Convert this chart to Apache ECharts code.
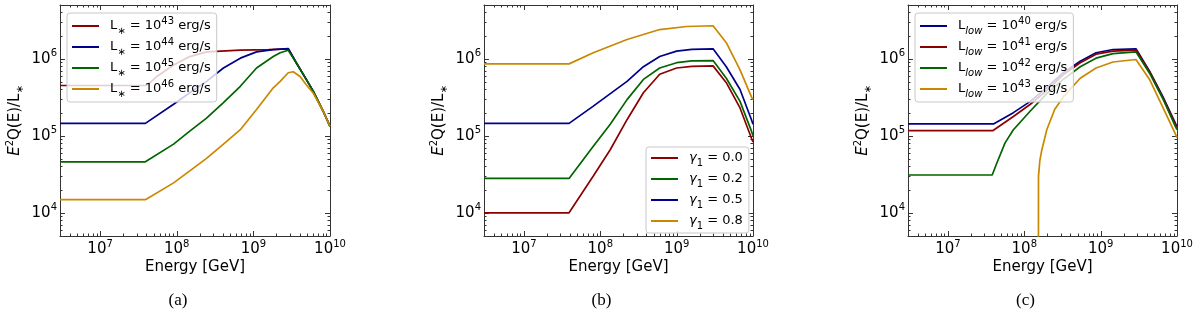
<!DOCTYPE html>
<html><head><meta charset="utf-8">
<script src="https://cdn.jsdelivr.net/npm/echarts@6/dist/echarts.min.js"></script>
<style>html,body{margin:0;padding:0;background:#fff}#c{width:1200px;height:323px}</style>
</head><body><div id="c"></div>
<script>
// ---------- tick values ----------
const xMajor = [1e7, 1e8, 1e9, 1e10];
const xMinor = [4e6,5e6,6e6,7e6,8e6,9e6, 2e7,3e7,4e7,5e7,6e7,7e7,8e7,9e7,
                2e8,3e8,4e8,5e8,6e8,7e8,8e8,9e8, 2e9,3e9,4e9,5e9,6e9,7e9,8e9,9e9];
const yMajor = [1e4, 1e5, 1e6];
const yMinor = [6e3,7e3,8e3,9e3, 2e4,3e4,4e4,5e4,6e4,7e4,8e4,9e4,
                2e5,3e5,4e5,5e5,6e5,7e5,8e5,9e5, 2e6,3e6,4e6];
const xRange = [3e6, 1e10];
const yRange = [5e3, 5e6];
const xTitle = 'Energy [GeV]';
const yTitle = 'E^2Q(E)/L_∗';
const panelLabels = ['(a)', '(b)', '(c)'];

// ---------- panel (a) ----------
const aNames = ['L_∗ = 10^43 erg/s', 'L_∗ = 10^44 erg/s', 'L_∗ = 10^45 erg/s', 'L_∗ = 10^46 erg/s'];
const aL43 = [[3e6,4.5e5],[3.9e7,4.5e5],[4.6e7,5.0e5],[5.5e7,5.9e5],[7.4e7,7.2e5],[9.1e7,8.3e5],[1.48e8,1.07e6],[2.45e8,1.23e6],[6.76e8,1.3e6],[1.58e9,1.32e6],[2.85e9,1.35e6],[3.63e9,8.9e5],[4.9e9,5.4e5],[6.03e9,3.8e5],[8.13e9,2.1e5],[1e10,1.33e5]];
const aL44 = [[3e6,1.45e5],[3.9e7,1.45e5],[9.1e7,2.57e5],[1.48e8,3.63e5],[2.45e8,5.1e5],[4.07e8,7.6e5],[6.76e8,1.02e6],[1.1e9,1.23e6],[1.82e9,1.32e6],[2.85e9,1.36e6],[3.63e9,8.9e5],[4.9e9,5.4e5],[6.03e9,3.8e5],[8.13e9,2.1e5],[1e10,1.33e5]];
const aL45 = [[3e6,4.6e4],[3.9e7,4.6e4],[9.1e7,7.8e4],[1.48e8,1.15e5],[2.45e8,1.7e5],[4.07e8,2.7e5],[6.76e8,4.4e5],[1.1e9,7.6e5],[1.82e9,1.07e6],[2.24e9,1.2e6],[2.85e9,1.29e6],[3.63e9,8.9e5],[4.9e9,5.4e5],[6.03e9,3.8e5],[8.13e9,2.1e5],[1e10,1.33e5]];
const aL46 = [[3e6,1.48e4],[3.9e7,1.48e4],[9.1e7,2.45e4],[1.48e8,3.5e4],[2.45e8,5.1e4],[4.07e8,7.8e4],[6.76e8,1.2e5],[1.1e9,2.2e5],[1.82e9,4.2e5],[2.24e9,5.1e5],[2.85e9,6.6e5],[3.31e9,6.8e5],[4.07e9,5.9e5],[4.9e9,4.6e5],[6.03e9,3.6e5],[8.13e9,2.1e5],[1e10,1.33e5]];

// ---------- panel (b) ----------
const bNames = ['γ_1 = 0.0', 'γ_1 = 0.2', 'γ_1 = 0.5', 'γ_1 = 0.8'];
const bG00 = [[3e6,1e4],[3.9e7,1e4],[8.1e7,3.0e4],[1.35e8,6.6e4],[2.24e8,1.62e5],[3.67e8,3.63e5],[6.0e8,6.3e5],[1e9,7.6e5],[1.58e9,8.0e5],[3e9,8.1e5],[4.47e9,4.9e5],[6.76e9,2.3e5],[9.55e9,9.3e4],[1e10,8.3e4]];
const bG02 = [[3e6,2.8e4],[3.9e7,2.8e4],[8.1e7,7.3e4],[1.35e8,1.41e5],[2.24e8,2.95e5],[3.67e8,5.4e5],[6.0e8,7.6e5],[1e9,8.9e5],[1.58e9,9.4e5],[3e9,9.5e5],[4.47e9,5.6e5],[6.76e9,2.8e5],[9.55e9,1.15e5],[1e10,1.0e5]];
const bG05 = [[3e6,1.45e5],[3.9e7,1.45e5],[8.1e7,2.43e5],[2.24e8,5.1e5],[3.67e8,7.9e5],[6.0e8,1.07e6],[1e9,1.26e6],[1.58e9,1.33e6],[3e9,1.35e6],[4.47e9,7.9e5],[6.76e9,4.0e5],[9.55e9,1.62e5],[1e10,1.41e5]];
const bG08 = [[3e6,8.6e5],[3.9e7,8.6e5],[8.1e7,1.2e6],[2.24e8,1.78e6],[6.0e8,2.4e6],[1.35e9,2.63e6],[3e9,2.69e6],[4.47e9,1.62e6],[6.76e9,7.2e5],[9.55e9,3.2e5],[1e10,2.95e5]];

// ---------- panel (c) ----------
const cNames = ['L_low = 10^40 erg/s', 'L_low = 10^41 erg/s', 'L_low = 10^42 erg/s', 'L_low = 10^43 erg/s'];
const cL40 = [[3e6,1.43e5],[4.0e7,1.43e5],[7.2e7,2.0e5],[1.2e8,2.8e5],[1.95e8,4.2e5],[3.24e8,6.6e5],[5.4e8,9.3e5],[8.7e8,1.2e6],[1.45e9,1.32e6],[2.9e9,1.35e6],[4.37e9,6.9e5],[6.46e9,3.3e5],[9.55e9,1.45e5],[1e10,1.32e5]];
const cL41 = [[3e6,1.17e5],[3.9e7,1.17e5],[7.2e7,1.78e5],[1.2e8,2.57e5],[1.95e8,3.85e5],[3.24e8,6.2e5],[5.4e8,8.9e5],[8.7e8,1.15e6],[1.45e9,1.26e6],[2.9e9,1.3e6],[4.37e9,6.8e5],[6.46e9,3.2e5],[9.55e9,1.41e5],[1e10,1.29e5]];
const cL42 = [[3e6,3.1e4],[3.8e7,3.1e4],[4.4e7,4.5e4],[5.6e7,8.1e4],[7.2e7,1.2e5],[1.2e8,2.1e5],[1.95e8,3.5e5],[3.24e8,5.4e5],[5.4e8,7.9e5],[8.7e8,1.02e6],[1.45e9,1.17e6],[2.9e9,1.23e6],[4.37e9,6.5e5],[6.46e9,3.1e5],[9.55e9,1.32e5],[1e10,1.2e5]];
const cL43 = [[1.53e8,1e3],[1.535e8,3.0e4],[1.6e8,4.8e4],[1.7e8,6.6e4],[1.97e8,1.2e5],[2.5e8,2.2e5],[3.24e8,3.2e5],[5.4e8,5.6e5],[8.7e8,7.6e5],[1.45e9,9.1e5],[2.9e9,9.8e5],[4.37e9,5.4e5],[6.46e9,2.4e5],[9.55e9,1.05e5],[1e10,9.5e4]];

const RED = '#8B0000', BLUE = '#00008B', GREEN = '#006400', ORANGE = '#C98800';
const panels = [
  { names: aNames, data: [aL43, aL44, aL45, aL46], colors: [RED, BLUE, GREEN, ORANGE], legend: {left: 67, top: 13, padding: [3,6,3,5]} },
  { names: bNames, data: [bG00, bG02, bG05, bG08], colors: [RED, GREEN, BLUE, ORANGE], legend: {left: 646, top: 147, padding: [1,6,2,5]} },
  { names: cNames, data: [cL40, cL41, cL42, cL43], colors: [BLUE, RED, GREEN, ORANGE], legend: {left: 915, top: 13, padding: [3,6,3,5]} }
];
const grids = [
  {left: 60, top: 5, width: 270, height: 231},
  {left: 484, top: 5, width: 269, height: 231},
  {left: 908, top: 5, width: 269, height: 231}
];

const FONT = 'DejaVu Sans';
const AX = '#333';
const MAJOR_LEN = 5, MINOR_LEN = 2.5;
const rich = {
  sup: {fontSize: 10, fontFamily: FONT, lineHeight: 11, verticalAlign: 'top', fill: '#000', color: '#000'},
  sub: {fontSize: 10, fontFamily: FONT, lineHeight: 14, verticalAlign: 'bottom', fill: '#000', color: '#000'},
  subi: {fontSize: 10, fontFamily: FONT, fontStyle: 'italic', lineHeight: 14, verticalAlign: 'bottom', fill: '#000', color: '#000'},
  it: {fontFamily: FONT, fontStyle: 'italic', fill: '#000', color: '#000'}
};
function richOf(size) {
  const r = {};
  for (const k in rich) r[k] = Object.assign({}, rich[k], k === 'it' ? {fontSize: size, lineHeight: 20} : {});
  return r;
}
function toRich(s) {
  return s.replace(/\^(\d+)/g, '{sup|$1}')
          .replace(/_low/g, '{subi|low}')
          .replace(/_(\S)/g, '{sub|$1}')
          .replace(/γ/g, '{it|γ}')
          .replace(/^E\{/, '{it|E}{');
}
function powLabel(v) {
  return '10{sup|' + Math.round(Math.log10(v)) + '}';
}

// tick marks (inward, on all four sides) placed through the log axes' own scales
// item: [x, y, kind (0 = x tick, 1 = y tick), isMajor]
const tickItems = [].concat(
  xMajor.map(v => [v, yRange[0], 0, 1]),
  xMinor.map(v => [v, yRange[0], 0, 0]),
  yMajor.map(v => [xRange[0], v, 1, 1]),
  yMinor.map(v => [xRange[0], v, 1, 0])
);
function renderTick(params, api) {
  const cs = params.coordSys;
  const len = api.value(3) ? MAJOR_LEN : MINOR_LEN;
  const st = {stroke: AX, lineWidth: 1};
  if (api.value(2) === 0) {
    const x = Math.round(api.coord([api.value(0), yRange[0]])[0]) + 0.5;
    const yb = cs.y + cs.height, yt = cs.y;
    return {type: 'group', children: [
      {type: 'line', shape: {x1: x, y1: yb, x2: x, y2: yb - len}, style: st},
      {type: 'line', shape: {x1: x, y1: yt, x2: x, y2: yt + len}, style: st}
    ]};
  }
  const y = Math.round(api.coord([xRange[0], api.value(1)])[1]) + 0.5;
  const xl = cs.x, xr = cs.x + cs.width;
  return {type: 'group', children: [
    {type: 'line', shape: {x1: xl, y1: y, x2: xl + len, y2: y}, style: st},
    {type: 'line', shape: {x1: xr, y1: y, x2: xr - len, y2: y}, style: st}
  ]};
}

const xAxis = [], yAxis = [], series = [], legend = [], graphic = [];
grids.forEach((g, i) => {
  const n0 = xAxis.length;
  xAxis.push({
    type: 'log', gridIndex: i, min: xRange[0], max: xRange[1], position: 'bottom',
    splitLine: {show: false}, axisTick: {show: false},
    axisLine: {show: true, lineStyle: {color: AX, width: 1}},
    axisLabel: {customValues: xMajor, margin: 3, formatter: powLabel, color: '#000',
      fontSize: 15, fontFamily: FONT, lineHeight: 20, rich: richOf(15)}
  });
  yAxis.push({
    type: 'log', gridIndex: i, min: yRange[0], max: yRange[1], position: 'left',
    splitLine: {show: false}, axisTick: {show: false},
    axisLine: {show: true, lineStyle: {color: AX, width: 1}},
    axisLabel: {customValues: yMajor, margin: 3, formatter: powLabel, color: '#000',
      fontSize: 15, fontFamily: FONT, lineHeight: 20, rich: richOf(15)}
  });
  // frame lines on top and right
  xAxis.push({
    type: 'log', gridIndex: i, min: xRange[0], max: xRange[1], position: 'top',
    splitLine: {show: false}, axisTick: {show: false}, axisLabel: {show: false},
    axisLine: {show: true, lineStyle: {color: AX, width: 1}}
  });
  yAxis.push({
    type: 'log', gridIndex: i, min: yRange[0], max: yRange[1], position: 'right',
    splitLine: {show: false}, axisTick: {show: false}, axisLabel: {show: false},
    axisLine: {show: true, lineStyle: {color: AX, width: 1}}
  });

  const p = panels[i];
  p.names.forEach((nm, k) => {
    series.push({
      type: 'line', name: nm, xAxisIndex: n0, yAxisIndex: n0,
      data: p.data[k], symbol: 'none',
      lineStyle: {color: p.colors[k], width: 1.7}, itemStyle: {color: p.colors[k]}
    });
  });
  series.push({
    type: 'custom', xAxisIndex: n0, yAxisIndex: n0, data: tickItems,
    renderItem: renderTick, silent: true, clip: false, z: 3,
    encode: {x: 0, y: 1}
  });
  legend.push({
    data: p.names, orient: 'vertical', left: p.legend.left, top: p.legend.top,
    padding: p.legend.padding, itemGap: 1, itemWidth: 27, itemHeight: 2, icon: 'rect',
    backgroundColor: 'rgba(255,255,255,0.8)', borderColor: '#c8c8c8', borderWidth: 1, borderRadius: 3,
    selectedMode: false, z: 5,
    formatter: nm => toRich(nm),
    textStyle: {fontSize: 13, fontFamily: FONT, color: '#000', lineHeight: 20, padding: [0, 0, 0, 6], rich: richOf(13)}
  });
  // axis titles
  graphic.push({
    type: 'text', x: g.left + g.width / 2, y: 267,
    style: {text: xTitle, textAlign: 'center', textVerticalAlign: 'middle',
      font: '15px "DejaVu Sans"', fill: '#000'}
  });
  graphic.push({
    type: 'text', x: g.left - 45, y: g.top + g.height / 2, rotation: Math.PI / 2,
    style: {text: toRich(yTitle), textAlign: 'center', textVerticalAlign: 'middle',
      fontSize: 15, fontFamily: FONT, lineHeight: 20, fill: '#000', rich: richOf(15)}
  });
  graphic.push({
    type: 'text', x: g.left + g.width / 2 - 17, y: 301,
    style: {text: panelLabels[i], textAlign: 'center', textVerticalAlign: 'middle',
      font: '17px "Liberation Serif"', fill: '#000'}
  });
});

const chart = echarts.init(document.getElementById('c'), null, {renderer: 'canvas'});
chart.setOption({
  animation: false,
  grid: grids,
  xAxis, yAxis, series, legend, graphic
});
</script>
</body></html>
